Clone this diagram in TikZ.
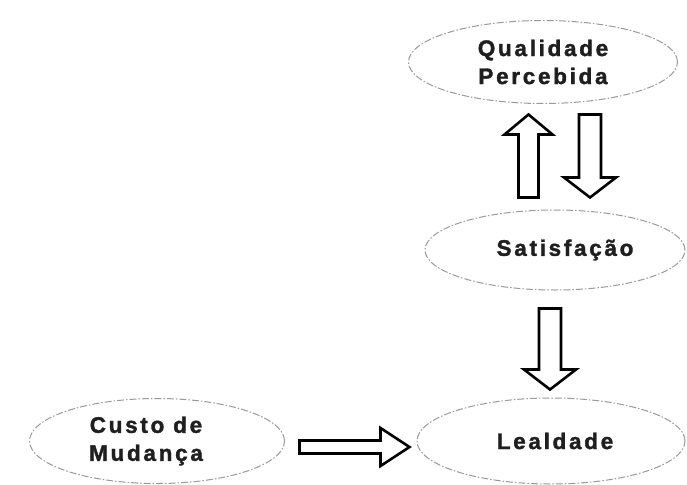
\documentclass[tikz,border=0pt]{standalone}
\usepackage{fontspec}
\setmainfont{Liberation Sans}
\newfontfamily\bubblefont[LetterSpace=12,FakeBold=1.6]{Liberation Sans Bold}
\usetikzlibrary{shapes.geometric,positioning,calc}

% hollow block arrow: from, to, shaft half width, head half width, head length
\newcommand{\fatarrow}[5]{%
  \coordinate (fa-base) at ($(#2)!#5!(#1)$);
  \draw[fatline] ($(#1)!#3!90:(#2)$) -- ($(fa-base)!#3!90:(#2)$) -- ($(fa-base)!#4!90:(#2)$)
    -- (#2) -- ($(fa-base)!#4!-90:(#2)$) -- ($(fa-base)!#3!-90:(#2)$) -- ($(#1)!#3!-90:(#2)$) -- cycle;}

\begin{document}
\begin{tikzpicture}[x=1pt,y=-1pt,on grid,
    bubble/.style={ellipse,draw=gray!80,dash pattern=on 7pt off 2pt on 1.5pt off 2pt,line width=1pt,
      font=\bubblefont\fontsize{22.5}{28}\selectfont,text=black!88,align=center,inner sep=0pt},
    fatline/.style={draw=black,fill=white,line width=2.6pt,line join=miter}]
  \useasboundingbox (0,0) rectangle (687,484);
  \node[bubble,minimum width=268pt,minimum height=86pt] (lea) at (551,441) {\hspace*{8pt}Lealdade};
  \node[bubble,minimum width=260pt,minimum height=80pt] (sat) [above=191pt of lea,xshift=4pt] {\hspace*{20pt}Satisfação};
  \node[bubble,minimum width=269pt,minimum height=83pt] (qual) [above=188pt of sat,xshift=-12pt] {Qualidade\\Percebida};
  \node[bubble,minimum width=255pt,minimum height=85pt] (custo) [left=394pt of lea] {Custo de\hspace*{22pt}\\Mudança\hspace*{22pt}};

  \coordinate (qs-up-a) at ([xshift=-26.5pt,yshift=12pt]sat.north);
  \coordinate (qs-up-b) at ([xshift=-14.5pt,yshift=-10.5pt]qual.south);
  \coordinate (qs-dn-a) at ([xshift=47pt,yshift=-10.5pt]qual.south);
  \coordinate (qs-dn-b) at ([xshift=35pt,yshift=12pt]sat.north);
  \coordinate (sl-a) at ([xshift=-5pt,yshift=-18pt]sat.south);
  \coordinate (sl-b) at ([xshift=-1pt,yshift=8pt]lea.north);
  \coordinate (cl-a) at ([xshift=14.5pt,yshift=-6pt]custo.east);
  \coordinate (cl-b) at ([xshift=-7pt,yshift=-6pt]lea.west);

  \fatarrow{qs-up-a}{qs-up-b}{10pt}{24pt}{20pt}
  \fatarrow{qs-dn-a}{qs-dn-b}{11pt}{26pt}{20pt}
  \fatarrow{sl-a}{sl-b}{11pt}{26pt}{20pt}
  \fatarrow{cl-a}{cl-b}{6.5pt}{19pt}{29pt}
\end{tikzpicture}
\end{document}
